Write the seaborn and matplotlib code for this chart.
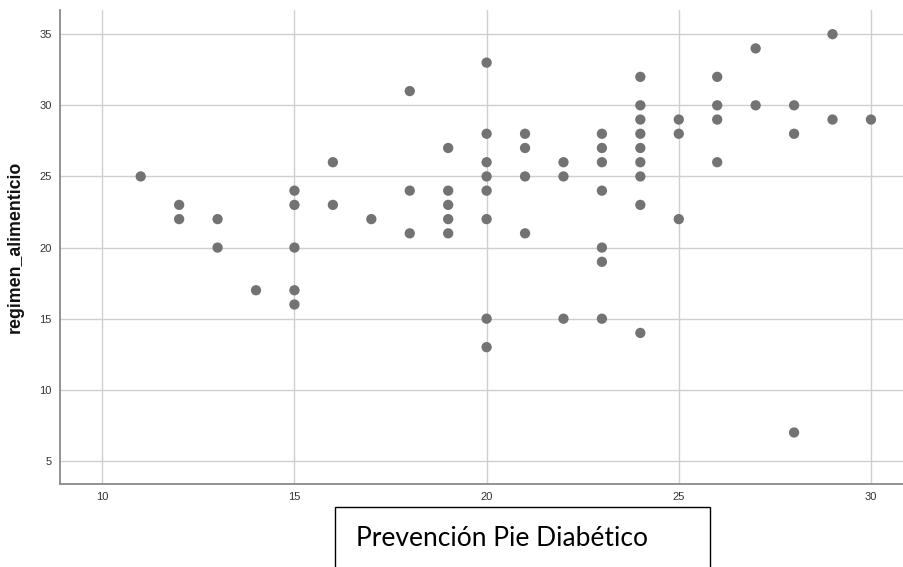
import matplotlib
matplotlib.use("Agg")
import matplotlib.pyplot as plt
import seaborn as sns
import pandas as pd

# prevencion pie diabetico (x) y regimen alimenticio (y)
prevencion = [11, 12, 12, 13, 13, 14,
              15, 15, 15, 15, 15, 16, 16, 17,
              18, 18, 18, 19, 19, 19, 19, 19,
              20, 20, 20, 20, 20, 20, 20, 20,
              21, 21, 21, 21, 22, 22, 22,
              23, 23, 23, 23, 23, 23, 23,
              24, 24, 24, 24, 24, 24, 24, 24, 24,
              25, 25, 25, 26, 26, 26, 26,
              27, 27, 28, 28, 28, 29, 29, 30]
regimen = [25, 23, 22, 22, 20, 17,
           24, 23, 20, 17, 16, 26, 23, 22,
           31, 24, 21, 27, 24, 23, 22, 21,
           33, 28, 26, 25, 24, 22, 15, 13,
           28, 27, 25, 21, 26, 25, 15,
           28, 27, 26, 24, 20, 19, 15,
           32, 30, 29, 28, 27, 26, 25, 23, 14,
           29, 28, 22, 32, 30, 29, 26,
           34, 30, 30, 28, 7, 35, 29, 29]

x_ticks = [10, 15, 20, 25, 30]
y_ticks = [5, 10, 15, 20, 25, 30, 35]

df = pd.DataFrame({"prevencion": prevencion, "regimen": regimen})

sns.set_style("white")
plt.rcParams["font.family"] = ["Liberation Sans", "DejaVu Sans"]

fig = plt.figure(figsize=(9.04, 5.67), dpi=100)
ax = fig.add_axes([60 / 904, 83 / 567, 844 / 904, 474 / 567])

ax.set_axisbelow(True)
ax.grid(True, color="#cfcfcf", linewidth=1.0)
sns.scatterplot(data=df, x="prevencion", y="regimen", ax=ax,
                color="#737373", s=55, edgecolor="none", zorder=3)

ax.set_xlim(8.9, 30.86)
ax.set_ylim(3.38, 36.7)
ax.set_xticks(x_ticks)
ax.set_yticks(y_ticks)
ax.tick_params(length=0, labelsize=8, labelcolor="#333333", pad=6)

for side in ["top", "right"]:
    ax.spines[side].set_visible(False)
for side in ["left", "bottom"]:
    ax.spines[side].set_color("#8a8a8a")
    ax.spines[side].set_linewidth(1.3)

ax.set_xlabel("")
ax.set_ylabel("regimen_alimenticio", fontsize=12.8, fontweight="bold",
              color="#111111", labelpad=11)

# caja del titulo del eje x
box = plt.Rectangle((335 / 904, -0.02), 375 / 904, (567 - 507) / 567 + 0.02,
                    transform=fig.transFigure, facecolor="white",
                    edgecolor="black", linewidth=1.0)
fig.patches.append(box)
fig.text(356 / 904, (567 - 538) / 567, "Prevención Pie Diabético",
         fontsize=19, family=["Lato", "DejaVu Sans"], color="black",
         va="center", ha="left")

fig.savefig("out.png", dpi=100)
